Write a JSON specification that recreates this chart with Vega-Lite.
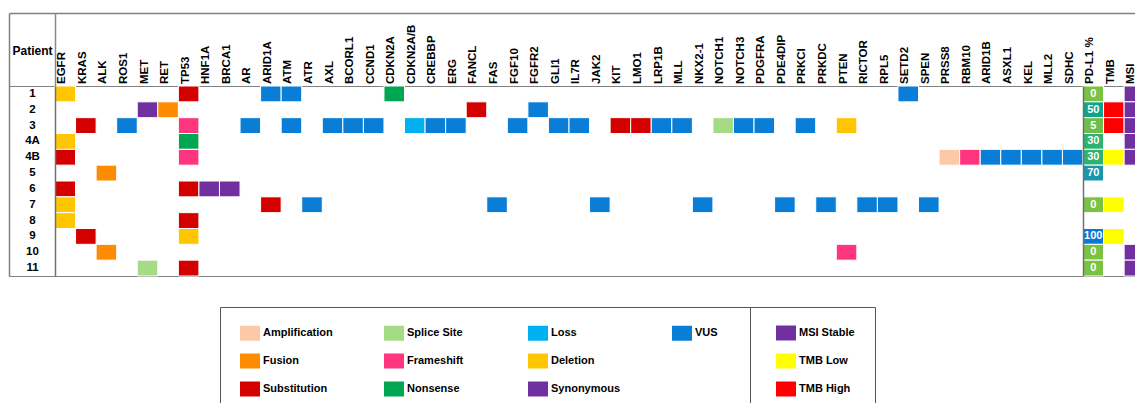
{
  "$schema": "https://vega.github.io/schema/vega-lite/v6.json",
  "width": 1126,
  "height": 190,
  "autosize": {"type": "none"},
  "padding": {"left": 9, "top": 86, "right": 0, "bottom": 127},
  "config": {"font": "Liberation Sans", "view": {"stroke": "#808080", "strokeWidth": 1}},
  "datasets": {
    "muts": [
      {"patient": "1", "col": "EGFR", "type": "Deletion"},
      {"patient": "1", "col": "TP53", "type": "Substitution"},
      {"patient": "1", "col": "ARID1A", "type": "VUS"},
      {"patient": "1", "col": "ATM", "type": "VUS"},
      {"patient": "1", "col": "CDKN2A", "type": "Nonsense"},
      {"patient": "1", "col": "SETD2", "type": "VUS"},
      {"patient": "2", "col": "MET", "type": "Synonymous"},
      {"patient": "2", "col": "RET", "type": "Fusion"},
      {"patient": "2", "col": "FANCL", "type": "Substitution"},
      {"patient": "2", "col": "FGFR2", "type": "VUS"},
      {"patient": "3", "col": "KRAS", "type": "Substitution"},
      {"patient": "3", "col": "ROS1", "type": "VUS"},
      {"patient": "3", "col": "TP53", "type": "Frameshift"},
      {"patient": "3", "col": "AR", "type": "VUS"},
      {"patient": "3", "col": "ATM", "type": "VUS"},
      {"patient": "3", "col": "AXL", "type": "VUS"},
      {"patient": "3", "col": "BCORL1", "type": "VUS"},
      {"patient": "3", "col": "CCND1", "type": "VUS"},
      {"patient": "3", "col": "CDKN2A/B", "type": "Loss"},
      {"patient": "3", "col": "CREBBP", "type": "VUS"},
      {"patient": "3", "col": "ERG", "type": "VUS"},
      {"patient": "3", "col": "FGF10", "type": "VUS"},
      {"patient": "3", "col": "GLI1", "type": "VUS"},
      {"patient": "3", "col": "IL7R", "type": "VUS"},
      {"patient": "3", "col": "KIT", "type": "Substitution"},
      {"patient": "3", "col": "LMO1", "type": "Substitution"},
      {"patient": "3", "col": "LRP1B", "type": "VUS"},
      {"patient": "3", "col": "MLL", "type": "VUS"},
      {"patient": "3", "col": "NOTCH1", "type": "Splice Site"},
      {"patient": "3", "col": "NOTCH3", "type": "VUS"},
      {"patient": "3", "col": "PDGFRA", "type": "VUS"},
      {"patient": "3", "col": "PRKCI", "type": "VUS"},
      {"patient": "3", "col": "PTEN", "type": "Deletion"},
      {"patient": "4A", "col": "EGFR", "type": "Deletion"},
      {"patient": "4A", "col": "TP53", "type": "Nonsense"},
      {"patient": "4B", "col": "EGFR", "type": "Substitution"},
      {"patient": "4B", "col": "TP53", "type": "Frameshift"},
      {"patient": "4B", "col": "PRSS8", "type": "Amplification"},
      {"patient": "4B", "col": "RBM10", "type": "Frameshift"},
      {"patient": "4B", "col": "ARID1B", "type": "VUS"},
      {"patient": "4B", "col": "ASXL1", "type": "VUS"},
      {"patient": "4B", "col": "KEL", "type": "VUS"},
      {"patient": "4B", "col": "MLL2", "type": "VUS"},
      {"patient": "4B", "col": "SDHC", "type": "VUS"},
      {"patient": "5", "col": "ALK", "type": "Fusion"},
      {"patient": "6", "col": "EGFR", "type": "Substitution"},
      {"patient": "6", "col": "TP53", "type": "Substitution"},
      {"patient": "6", "col": "HNF1A", "type": "Synonymous"},
      {"patient": "6", "col": "BRCA1", "type": "Synonymous"},
      {"patient": "7", "col": "EGFR", "type": "Deletion"},
      {"patient": "7", "col": "ARID1A", "type": "Substitution"},
      {"patient": "7", "col": "ATR", "type": "VUS"},
      {"patient": "7", "col": "FAS", "type": "VUS"},
      {"patient": "7", "col": "JAK2", "type": "VUS"},
      {"patient": "7", "col": "NKX2-1", "type": "VUS"},
      {"patient": "7", "col": "PDE4DIP", "type": "VUS"},
      {"patient": "7", "col": "PRKDC", "type": "VUS"},
      {"patient": "7", "col": "RICTOR", "type": "VUS"},
      {"patient": "7", "col": "RPL5", "type": "VUS"},
      {"patient": "7", "col": "SPEN", "type": "VUS"},
      {"patient": "8", "col": "EGFR", "type": "Deletion"},
      {"patient": "8", "col": "TP53", "type": "Substitution"},
      {"patient": "9", "col": "KRAS", "type": "Substitution"},
      {"patient": "9", "col": "TP53", "type": "Deletion"},
      {"patient": "10", "col": "ALK", "type": "Fusion"},
      {"patient": "10", "col": "PTEN", "type": "Frameshift"},
      {"patient": "11", "col": "MET", "type": "Splice Site"},
      {"patient": "11", "col": "TP53", "type": "Substitution"}
    ],
    "pdl1": [
      {"patient": "1", "col": "PD-L1 %", "pdl1": 0},
      {"patient": "2", "col": "PD-L1 %", "pdl1": 50},
      {"patient": "3", "col": "PD-L1 %", "pdl1": 5},
      {"patient": "4A", "col": "PD-L1 %", "pdl1": 30},
      {"patient": "4B", "col": "PD-L1 %", "pdl1": 30},
      {"patient": "5", "col": "PD-L1 %", "pdl1": 70},
      {"patient": "7", "col": "PD-L1 %", "pdl1": 0},
      {"patient": "9", "col": "PD-L1 %", "pdl1": 100},
      {"patient": "10", "col": "PD-L1 %", "pdl1": 0},
      {"patient": "11", "col": "PD-L1 %", "pdl1": 0}
    ],
    "bio": [
      {"patient": "2", "col": "TMB", "status": "TMB High"},
      {"patient": "3", "col": "TMB", "status": "TMB High"},
      {"patient": "4B", "col": "TMB", "status": "TMB Low"},
      {"patient": "7", "col": "TMB", "status": "TMB Low"},
      {"patient": "9", "col": "TMB", "status": "TMB Low"},
      {"patient": "1", "col": "MSI", "status": "MSI Stable"},
      {"patient": "2", "col": "MSI", "status": "MSI Stable"},
      {"patient": "3", "col": "MSI", "status": "MSI Stable"},
      {"patient": "4A", "col": "MSI", "status": "MSI Stable"},
      {"patient": "4B", "col": "MSI", "status": "MSI Stable"},
      {"patient": "10", "col": "MSI", "status": "MSI Stable"},
      {"patient": "11", "col": "MSI", "status": "MSI Stable"}
    ],
    "frame": [{"k": 0}, {"k": 1}]
  },
  "layer": [
    {
      "layer": [
        {
          "data": {"name": "muts"},
          "mark": {"type": "rect", "stroke": "white", "strokeWidth": 1},
          "encoding": {
            "x": {
              "field": "col", "type": "nominal",
              "scale": {"domain": ["EGFR","KRAS","ALK","ROS1","MET","RET","TP53","HNF1A","BRCA1","AR","ARID1A","ATM","ATR","AXL","BCORL1","CCND1","CDKN2A","CDKN2A/B","CREBBP","ERG","FANCL","FAS","FGF10","FGFR2","GLI1","IL7R","JAK2","KIT","LMO1","LRP1B","MLL","NKX2-1","NOTCH1","NOTCH3","PDGFRA","PDE4DIP","PRKCI","PRKDC","PTEN","RICTOR","RPL5","SETD2","SPEN","PRSS8","RBM10","ARID1B","ASXL1","KEL","MLL2","SDHC","PD-L1 %","TMB","MSI"], "range": [46, 1135.68], "paddingInner": 0, "paddingOuter": 0},
              "axis": {
                "orient": "top", "title": null, "domain": false,
                "labelAngle": -90, "labelAlign": "left", "labelBaseline": "alphabetic",
                "labelFont": "Liberation Sans", "labelFontSize": 11.5, "labelFontWeight": "bold", "labelColor": "black",
                "labelPadding": -70.5, "labelOverlap": false, "labelBound": false, "labelFlush": false,
                "bandPosition": 0, "ticks": true, "tickSize": 73, "tickWidth": 1.5,
                "tickColor": {"condition": {"test": "datum.value === 'EGFR'", "value": "#8a8a8a"}, "value": "transparent"},
                "grid": true, "gridWidth": 1.5,
                "gridColor": {"condition": {"test": "datum.value === 'EGFR' || datum.value === 'PD-L1 %'", "value": "#707070"}, "value": "transparent"},
                "zindex": 1
              }
            },
            "y": {
              "field": "patient", "type": "nominal",
              "scale": {"domain": ["1","2","3","4A","4B","5","6","7","8","9","10","11"], "paddingInner": 0, "paddingOuter": 0},
              "axis": {
                "orient": "left", "domain": false, "ticks": false, "grid": false,
                "labelAlign": "center", "labelBaseline": "middle", "labelPadding": -23,
                "labelFont": "Liberation Sans", "labelFontSize": 11.5, "labelFontWeight": "bold", "labelColor": "black",
                "title": "Patient", "titleAngle": 0, "titleX": 23, "titleY": -36, "titleAlign": "center", "titleBaseline": "middle",
                "titleFont": "Liberation Sans", "titleFontSize": 12, "titleFontWeight": "bold", "titleColor": "black"
              }
            },
            "color": {
              "field": "type", "type": "nominal",
              "scale": {
                "domain": ["Amplification","Fusion","Substitution","Splice Site","Frameshift","Nonsense","Loss","Deletion","Synonymous","VUS","_a","_b"],
                "range": ["#fbc8a8","#ff8c00","#d40000","#a6db86","#ff3580","#00a651","#00b0f0","#ffc600","#7030a0","#0a7ed6","#ffffff","#ffffff"]
              },
              "legend": {
                "orient": "none", "legendX": 211, "legendY": 221,
                "title": " ", "titleOrient": "right", "titlePadding": 24, "titleFontSize": 11,
                "columns": 4, "gridAlign": "all", "columnPadding": 47, "rowPadding": 10,
                "padding": 16, "symbolOffset": 4, "strokeColor": "#555", "fillColor": "white",
                "symbolType": "M-1,-0.75H1V0.75H-1Z", "symbolSize": 400, "symbolStrokeWidth": 0,
                "labelFont": "Liberation Sans", "labelFontSize": 11, "labelFontWeight": "bold", "labelColor": "black", "labelOffset": 3,
                "labelExpr": "indexof(datum.label, '_') === 0 ? '' : datum.label"
              }
            }
          }
        },
        {
          "data": {"name": "pdl1"},
          "mark": {"type": "rect", "stroke": "white", "strokeWidth": 1},
          "encoding": {
            "x": {"field": "col", "type": "nominal"},
            "y": {"field": "patient", "type": "nominal"},
            "color": {
              "field": "pdl1", "type": "ordinal",
              "scale": {"domain": [0, 5, 30, 50, 70, 100], "range": ["#7cc242", "#6cbf4b", "#2eb36f", "#12a38c", "#1996a9", "#0a78d2"]},
              "legend": null
            }
          }
        },
        {
          "data": {"name": "pdl1"},
          "mark": {"type": "text", "color": "white", "fontWeight": "bold", "fontSize": 11, "font": "Liberation Sans", "baseline": "middle"},
          "encoding": {
            "x": {"field": "col", "type": "nominal"},
            "y": {"field": "patient", "type": "nominal"},
            "text": {"field": "pdl1", "type": "quantitative"}
          }
        },
        {
          "data": {"name": "bio"},
          "mark": {"type": "rect", "stroke": "white", "strokeWidth": 1},
          "encoding": {
            "x": {"field": "col", "type": "nominal"},
            "y": {"field": "patient", "type": "nominal"},
            "color": {
              "field": "status", "type": "nominal",
              "scale": {"domain": ["MSI Stable", "TMB Low", "TMB High"], "range": ["#7030a0", "#ffff00", "#ff0000"]},
              "legend": {
                "orient": "none", "legendX": 741, "legendY": 221,
                "title": " ", "titleOrient": "right", "titlePadding": 4, "titleFontSize": 11,
                "rowPadding": 10, "padding": 16, "symbolOffset": 10, "strokeColor": "#555", "fillColor": "white",
                "symbolType": "M-1,-0.75H1V0.75H-1Z", "symbolSize": 400, "symbolStrokeWidth": 0,
                "labelFont": "Liberation Sans", "labelFontSize": 11, "labelFontWeight": "bold", "labelColor": "black", "labelOffset": 3
              }
            }
          }
        }
      ],
      "resolve": {"scale": {"color": "independent"}, "legend": {"color": "independent"}}
    },
    {
      "data": {"name": "frame"},
      "mark": {"type": "point", "opacity": 0},
      "encoding": {
        "x": {
          "field": "k", "type": "quantitative", "scale": {"domain": [0, 1]},
          "axis": {"orient": "top", "offset": 73, "domain": true, "domainColor": "#808080", "domainWidth": 1.5, "labels": false, "ticks": false, "grid": false, "title": null}
        },
        "y": {
          "field": "k", "type": "quantitative", "scale": {"domain": [0, 1], "range": [-73, 190]},
          "axis": {"orient": "left", "domain": true, "domainColor": "#808080", "domainWidth": 1.5, "labels": false, "ticks": false, "grid": false, "title": null}
        }
      }
    }
  ],
  "resolve": {"scale": {"x": "independent", "y": "independent"}, "axis": {"x": "independent", "y": "independent"}}
}
